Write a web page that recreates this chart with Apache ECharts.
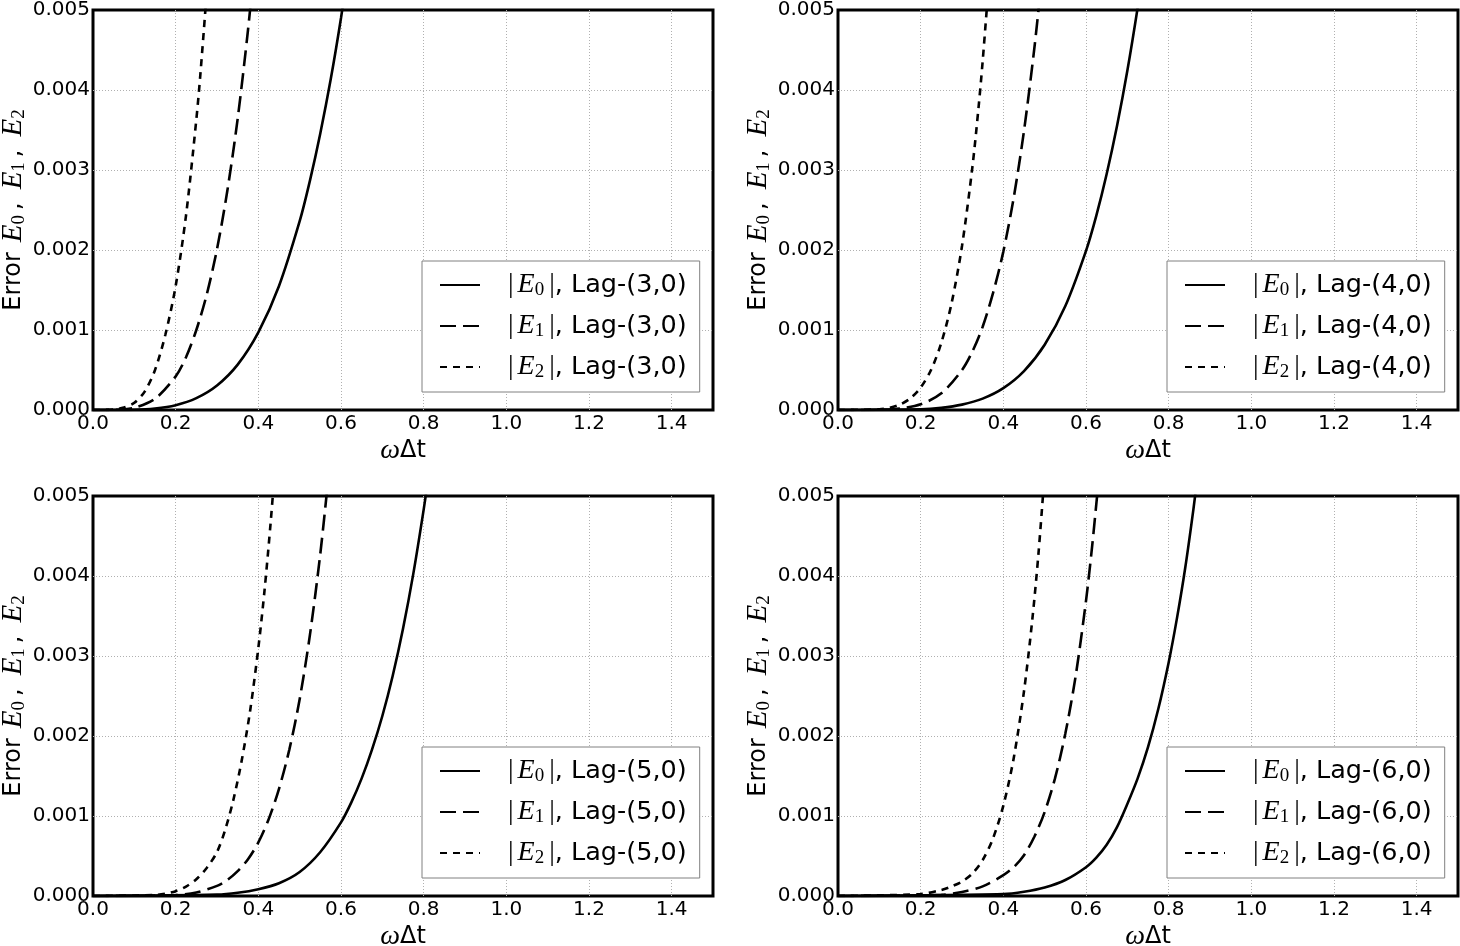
<!DOCTYPE html>
<html><head><meta charset="utf-8">
<script src="https://cdn.jsdelivr.net/npm/echarts@6/dist/echarts.min.js"></script>
<style>html,body{margin:0;padding:0;background:#fff}#c{width:1460px;height:946px}</style>
</head><body><div id="c"></div>
<script>
// ---- data ----
const lags = [3, 4, 5, 6];

const lag3E0x = [0, 0.1, 0.15, 0.2, 0.25, 0.3, 0.35, 0.4, 0.45, 0.5, 0.525, 0.55, 0.575, 0.6, 0.625];
const lag3E0y = [0, 0.000004, 0.000019, 0.00006, 0.000148, 0.000306, 0.000567, 0.00097, 0.00155, 0.00236, 0.00287, 0.00346, 0.00413, 0.0049, 0.00577];
const lag3E1x = [0, 0.05, 0.1, 0.15, 0.2, 0.225, 0.25, 0.275, 0.3, 0.325, 0.35, 0.375, 0.39];
const lag3E1y = [0, 0.000002, 0.000029, 0.00014, 0.00042, 0.00066, 0.001, 0.00144, 0.00201, 0.00274, 0.00364, 0.00475, 0.00553];
const lag3E2x = [0, 0.05, 0.075, 0.1, 0.125, 0.15, 0.175, 0.2, 0.225, 0.25, 0.26, 0.275];
const lag3E2y = [0, 0.000006, 0.00003, 0.00009, 0.00023, 0.0005, 0.00094, 0.00155, 0.00243, 0.00363, 0.00421, 0.00521];

const lag4E0x = [0, 0.2, 0.25, 0.3, 0.35, 0.4, 0.45, 0.5, 0.55, 0.6, 0.625, 0.65, 0.675, 0.7, 0.725, 0.74];
const lag4E0y = [0, 0.000009, 0.000027, 0.000067, 0.000142, 0.000273, 0.000486, 0.000815, 0.0013, 0.00199, 0.00243, 0.00295, 0.00355, 0.00424, 0.00503, 0.00557];
const lag4E1x = [0, 0.1, 0.15, 0.2, 0.25, 0.3, 0.325, 0.35, 0.375, 0.4, 0.425, 0.45, 0.475, 0.49];
const lag4E1y = [0, 0.000003, 0.000018, 0.000071, 0.000208, 0.0005, 0.00073, 0.00104, 0.00146, 0.00198, 0.00265, 0.00349, 0.00452, 0.00525];
const lag4E2x = [0, 0.1, 0.125, 0.15, 0.175, 0.2, 0.225, 0.25, 0.275, 0.3, 0.325, 0.34, 0.35, 0.365];
const lag4E2y = [0, 0.000009, 0.000028, 0.000068, 0.000146, 0.00028, 0.0005, 0.00084, 0.00134, 0.00205, 0.00303, 0.00378, 0.00436, 0.00535];

const lag5E0x = [0, 0.3, 0.35, 0.4, 0.45, 0.5, 0.55, 0.6, 0.625, 0.65, 0.675, 0.7, 0.725, 0.75, 0.775, 0.8, 0.815];
const lag5E0y = [0, 0.000017, 0.00004, 0.000085, 0.00016, 0.0003, 0.00055, 0.00092, 0.00117, 0.00147, 0.00183, 0.00225, 0.00275, 0.00334, 0.00403, 0.00483, 0.00536];
const lag5E1x = [0, 0.2, 0.25, 0.3, 0.325, 0.35, 0.375, 0.4, 0.425, 0.45, 0.475, 0.5, 0.525, 0.55, 0.57];
const lag5E1y = [0, 0.000012, 0.000044, 0.000127, 0.0002, 0.00031, 0.00046, 0.00067, 0.00096, 0.00134, 0.00183, 0.00246, 0.00327, 0.00428, 0.00526];
const lag5E2x = [0, 0.15, 0.175, 0.2, 0.225, 0.25, 0.275, 0.3, 0.32, 0.34, 0.36, 0.38, 0.4, 0.415, 0.43, 0.44];
const lag5E2y = [0, 0.000012, 0.000028, 0.00006, 0.000117, 0.00021, 0.00035, 0.00055, 0.00083, 0.00121, 0.0017, 0.00231, 0.0031, 0.00382, 0.00468, 0.00534];

const lag6E0x = [0, 0.4, 0.45, 0.5, 0.55, 0.6, 0.625, 0.65, 0.675, 0.7, 0.725, 0.75, 0.775, 0.8, 0.82, 0.84, 0.86, 0.875];
const lag6E0y = [0, 0.000023, 0.000052, 0.000105, 0.0002, 0.00036, 0.00048, 0.00064, 0.00086, 0.00115, 0.00147, 0.00186, 0.00234, 0.00292, 0.00347, 0.0041, 0.00484, 0.00546];
const lag6E1x = [0, 0.25, 0.3, 0.35, 0.4, 0.425, 0.45, 0.475, 0.5, 0.525, 0.55, 0.575, 0.6, 0.615, 0.63];
const lag6E1y = [0, 0.000015, 0.00005, 0.00012, 0.00026, 0.00036, 0.00051, 0.00074, 0.00105, 0.00147, 0.00203, 0.00275, 0.00369, 0.00438, 0.00517];
const lag6E2x = [0, 0.2, 0.25, 0.275, 0.3, 0.325, 0.35, 0.375, 0.4, 0.425, 0.45, 0.47, 0.485, 0.5];
const lag6E2y = [0, 0.000025, 0.000075, 0.00012, 0.00018, 0.00028, 0.00045, 0.00072, 0.00113, 0.00172, 0.00256, 0.00345, 0.00428, 0.00529];

const seriesX = [[lag3E0x, lag3E1x, lag3E2x], [lag4E0x, lag4E1x, lag4E2x], [lag5E0x, lag5E1x, lag5E2x], [lag6E0x, lag6E1x, lag6E2x]];
const seriesY = [[lag3E0y, lag3E1y, lag3E2y], [lag4E0y, lag4E1y, lag4E2y], [lag5E0y, lag5E1y, lag5E2y], [lag6E0y, lag6E1y, lag6E2y]];

// ---- layout / style ----
const gridPos = [
  {left: 93, top: 10}, {left: 838, top: 10},
  {left: 93, top: 496}, {left: 838, top: 496}
];
const GW = 620, GH = 400;
const SANS = 'DejaVu Sans';
const SERIF = 'Liberation Serif';
const dashTypes = ['solid', [16, 7], [7, 6]];

const legendRich = {
  bar0: {fontFamily: SERIF, fontSize: 28, lineHeight: 30, color: '#000', padding: [0, 0, 0, 23]},
  bar: {fontFamily: SERIF, fontSize: 28, lineHeight: 30, color: '#000'},
  e: {fontFamily: SERIF, fontStyle: 'italic', fontSize: 28, lineHeight: 30, color: '#000', padding: [0, 0, 0, 4]},
  sub: {fontFamily: SERIF, fontSize: 19, lineHeight: 14, verticalAlign: 'bottom', color: '#000', padding: [0, 5, 0, 0]},
  t: {fontFamily: SANS, fontSize: 25.5, lineHeight: 30, color: '#000'}
};

const yNameRich = {
  t: {fontFamily: SANS, fontSize: 24, lineHeight: 30, color: '#000'},
  e0: {fontFamily: SERIF, fontStyle: 'italic', fontSize: 29, lineHeight: 30, color: '#000', padding: [0, 0, 0, 10]},
  e: {fontFamily: SERIF, fontStyle: 'italic', fontSize: 29, lineHeight: 30, color: '#000', padding: [0, 0, 0, 2]},
  sub: {fontFamily: SERIF, fontSize: 19, lineHeight: 14, verticalAlign: 'bottom', color: '#000'},
  c: {fontFamily: SANS, fontSize: 24, lineHeight: 30, color: '#000', padding: [0, 11, 0, 5]}
};
const xNameRich = {
  w: {fontFamily: SERIF, fontStyle: 'italic', fontSize: 28, lineHeight: 30, color: '#000'},
  t: {fontFamily: SANS, fontSize: 24, lineHeight: 30, color: '#000'}
};

const grids = [], xAxes = [], yAxes = [], series = [], legends = [];
lags.forEach((lag, gi) => {
  grids.push({left: gridPos[gi].left, top: gridPos[gi].top, width: GW, height: GH,
    containLabel: false, outerBoundsMode: 'none',
    show: true, borderColor: '#000', borderWidth: 3, backgroundColor: '#fff'});
  xAxes.push({
    type: 'value', gridIndex: gi, min: 0, max: 1.5, interval: 0.2,
    axisLine: {show: false}, axisTick: {show: false},
    axisLabel: {color: '#000', fontFamily: SANS, fontSize: 20, margin: 4, showMaxLabel: false,
      formatter: v => v.toFixed(1)},
    splitLine: {show: true, showMinLine: false, showMaxLine: false,
      lineStyle: {type: [1, 2], color: '#b0b0b0', width: 1}},
    name: '{w|ω}{t|Δt}', nameLocation: 'middle', nameGap: 26,
    nameTextStyle: {rich: xNameRich}
  });
  yAxes.push({
    type: 'value', gridIndex: gi, min: 0, max: 0.005, interval: 0.001,
    axisLine: {show: false}, axisTick: {show: false},
    axisLabel: {color: '#000', fontFamily: SANS, fontSize: 20, margin: 3,
      formatter: v => v.toFixed(3)},
    splitLine: {show: true, showMinLine: false, showMaxLine: false,
      lineStyle: {type: [1, 2], color: '#b0b0b0', width: 1}},
    name: '{t|Error}{e0|E}{sub|0}{c|,}{e|E}{sub|1}{c|,}{e|E}{sub|2}',
    nameLocation: 'middle', nameGap: 60,
    nameTextStyle: {rich: yNameRich}
  });
  const names = [];
  for (let k = 0; k < 3; k++) {
    const name = '|E' + k + '|, Lag-(' + lag + ',0)';
    names.push(name);
    series.push({
      type: 'line', name: name, xAxisIndex: gi, yAxisIndex: gi,
      data: seriesX[gi][k].map((x, i) => [x, seriesY[gi][k][i]]),
      symbol: 'none', showSymbol: false, smooth: 0.3,
      clip: true, animation: false,
      lineStyle: {color: '#000', width: 2.6, type: dashTypes[k]},
      itemStyle: {color: '#000'}, z: 3
    });
  }
  legends.push({
    data: names, orient: 'vertical', left: gridPos[gi].left + 329, top: gridPos[gi].top + 251,
    backgroundColor: '#fff', borderColor: '#808080', borderWidth: 1, borderRadius: 0,
    padding: [10, 13, 10, 17], itemWidth: 40, itemHeight: 14, itemGap: 12,
    selectedMode: false, z: 10,
    itemStyle: {opacity: 0},
    formatter: nm => {
      const m = nm.match(/^\|E(\d)\|, (.*)$/);
      return '{bar0||}{e|E}{sub|' + m[1] + '}{bar||}{t|, ' + m[2] + '}';
    },
    textStyle: {rich: legendRich}
  });
});

const chart = echarts.init(document.getElementById('c'));
chart.setOption({
  animation: false,
  backgroundColor: '#fff',
  grid: grids, xAxis: xAxes, yAxis: yAxes, series: series, legend: legends
});
</script></body></html>
